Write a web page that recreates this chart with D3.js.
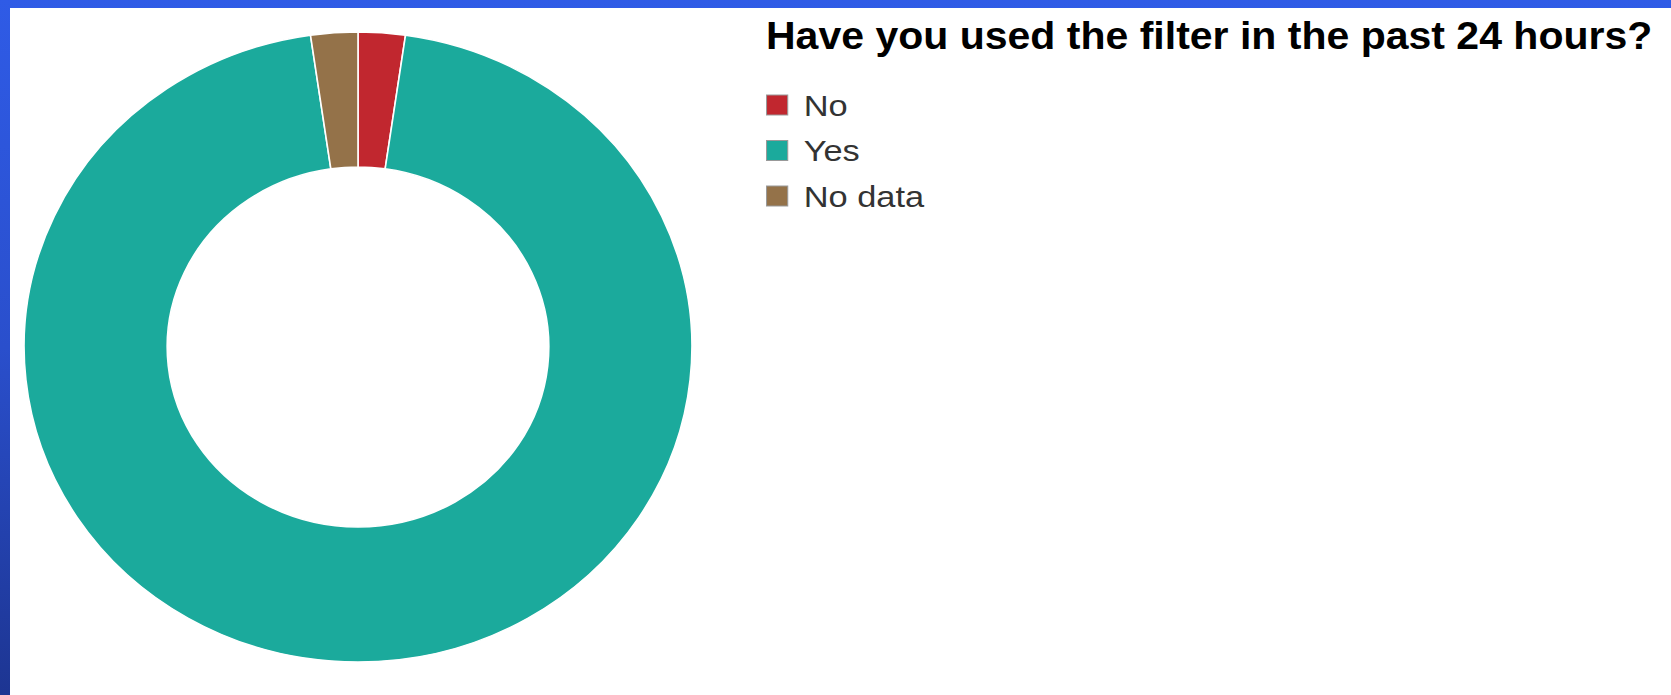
<!DOCTYPE html>
<html>
<head>
<meta charset="utf-8">
<title>filter use</title>
<script src="https://cdn.jsdelivr.net/npm/d3@7"></script>
<style>
  body{
    margin: 0;
    width: 1671px;
    height: 695px;
    overflow: hidden;
    background: linear-gradient(to bottom, #2f5be6 0%, #2a4fcc 50%, #1d3592 100%);
  }
  #frame{
    position: absolute;
    left: 10px;
    top: 8px;
    right: 0;
    bottom: 0;
    background: #fff;
  }
  svg{ position: absolute; left: 0; top: 0; }
</style>
</head>
<body>
<div id="frame"></div>
<div id="container"></div>
<script>
  var title = "Have you used the filter in the past 24 hours?";
  var categories = ["No", "Yes", "No data"];
  var counts = [1, 42, 1];
  var colors = ["#c1272f", "#1baa9c", "#947249"];

  var width = 1671, height = 695;
  var cx = 358, cy = 347, outerR = 315, innerR = 180, stretch = 1.06;

  var svg = d3.select("#container").append("svg")
      .attr("width", width)
      .attr("height", height);

  var data = categories.map(function(c, i){ return {name: c, value: counts[i]}; });

  var color = d3.scaleOrdinal().domain(categories).range(colors);

  var pie = d3.pie().sort(null).value(function(d){ return d.value; });
  var arc = d3.arc().innerRadius(innerR).outerRadius(outerR);

  var donut = svg.append("g")
      .attr("transform", "translate(" + cx + "," + cy + ") scale(" + stretch + ",1)");

  donut.selectAll("path")
    .data(pie(data))
    .enter().append("path")
      .attr("d", arc)
      .attr("fill", function(d){ return color(d.data.name); })
      .attr("stroke", "#fff")
      .attr("stroke-width", 1.5);

  // title + legend, same horizontal stretch as the picture
  var side = svg.append("g")
      .attr("transform", "translate(766,0) scale(" + stretch + ",1)");

  side.append("text")
      .text(title)
      .attr("x", 0)
      .attr("y", 49)
      .style("font-family", "'Liberation Sans', Arial, sans-serif")
      .style("font-weight", "bold")
      .style("font-size", "38.7px")
      .attr("fill", "#000");

  var y = d3.scalePoint().domain(categories).range([105, 196]);

  var items = side.selectAll(".leg")
    .data(categories)
    .enter().append("g")
      .attr("class", "leg")
      .attr("transform", function(d){ return "translate(0," + y(d) + ")"; });

  items.append("rect")
      .attr("x", 0.5)
      .attr("y", -10)
      .attr("width", 20)
      .attr("height", 20)
      .attr("fill", function(d){ return color(d); })
      .attr("stroke", "#999")
      .attr("stroke-width", 1);

  items.append("text")
      .text(function(d){ return d; })
      .attr("transform", "translate(35.5,10.5) scale(1.1,1)")
      .style("font-family", "'Liberation Sans', Arial, sans-serif")
      .style("font-size", "29.5px")
      .attr("fill", "#333");
</script>
</body>
</html>
